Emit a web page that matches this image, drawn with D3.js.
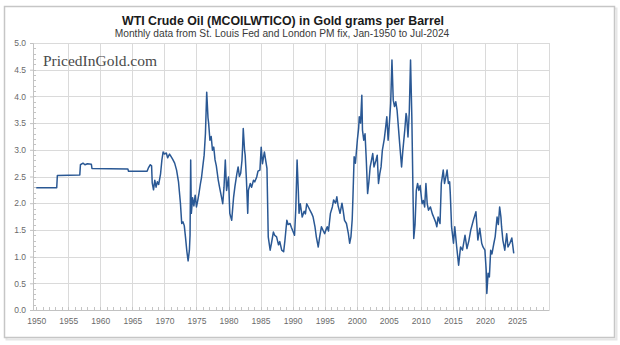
<!DOCTYPE html>
<html>
<head>
<meta charset="utf-8">
<script src="https://cdn.jsdelivr.net/npm/d3@7"></script>
<style>
  html, body { margin: 0; padding: 0; background: #ffffff; }
  svg { display: block; }
</style>
</head>
<body>
<svg id="chart" width="620" height="345"></svg>
<script>
// WTI crude oil priced in grams of gold per barrel (monthly, Jan-1950 .. Jul-2024)
const dates = [
  1950.0, 1953.2, 1953.3, 1956.8, 1956.9, 1957.3, 1957.6, 1958.0, 1958.6, 1958.7,
  1964.3, 1964.4, 1967.3, 1967.5, 1967.8, 1968.0, 1968.1, 1968.3, 1968.5, 1968.7,
  1968.9, 1969.1, 1969.4, 1969.6, 1969.8, 1970.0, 1970.3, 1970.5, 1970.8, 1971.0,
  1971.3, 1971.6, 1971.9, 1972.2, 1972.5, 1972.7, 1972.9, 1973.1, 1973.3, 1973.5,
  1973.7, 1973.9, 1974.0, 1974.1, 1974.2, 1974.4, 1974.6, 1974.8, 1975.0, 1975.2,
  1975.4, 1975.6, 1975.8, 1976.0, 1976.2, 1976.4, 1976.6, 1976.8, 1976.9, 1977.1,
  1977.3, 1977.5, 1977.7, 1977.9, 1978.1, 1978.4, 1978.6, 1978.9, 1979.1, 1979.3,
  1979.5, 1979.7, 1980.0, 1980.2, 1980.5, 1980.8, 1981.0, 1981.3, 1981.5, 1981.7,
  1981.9, 1982.1, 1982.2, 1982.3, 1982.5, 1982.6, 1982.8, 1983.0, 1983.1, 1983.4,
  1983.6, 1983.9, 1984.1, 1984.4, 1984.6, 1984.9, 1985.1, 1985.3, 1985.6, 1985.8,
  1986.0, 1986.2, 1986.4, 1986.5, 1986.7, 1987.0, 1987.2, 1987.5, 1987.8, 1988.0,
  1988.3, 1988.6, 1988.8, 1989.1, 1989.3, 1989.6, 1989.8, 1990.1, 1990.3, 1990.5,
  1990.7, 1990.9, 1991.0, 1991.2, 1991.5, 1991.8, 1992.0, 1992.2, 1992.5, 1992.7,
  1993.0, 1993.2, 1993.5, 1993.7, 1994.0, 1994.2, 1994.5, 1994.8, 1995.0, 1995.2,
  1995.4, 1995.6, 1995.9, 1996.2, 1996.4, 1996.7, 1996.9, 1997.1, 1997.4, 1997.7,
  1997.9, 1998.1, 1998.4, 1998.7, 1998.9, 1999.1, 1999.3, 1999.4, 1999.6, 1999.8,
  2000.1, 2000.3, 2000.4, 2000.6, 2000.8, 2000.9, 2001.1, 2001.3, 2001.5, 2001.7,
  2001.9, 2002.1, 2002.3, 2002.5, 2002.7, 2003.0, 2003.2, 2003.4, 2003.6, 2003.8,
  2004.0, 2004.3, 2004.5, 2004.7, 2004.9, 2005.1, 2005.3, 2005.5, 2005.7, 2005.9,
  2006.1, 2006.3, 2006.5, 2006.7, 2007.0, 2007.2, 2007.5, 2007.7, 2007.8, 2008.0,
  2008.2, 2008.4, 2008.6, 2008.8, 2008.9, 2009.1, 2009.3, 2009.5, 2009.7, 2009.9,
  2010.2, 2010.4, 2010.6, 2010.8, 2011.0, 2011.2, 2011.5, 2011.8, 2012.0, 2012.3,
  2012.5, 2012.7, 2013.0, 2013.2, 2013.5, 2013.7, 2013.9, 2014.1, 2014.3, 2014.5,
  2014.6, 2014.8, 2015.1, 2015.3, 2015.6, 2015.9, 2016.2, 2016.5, 2016.9, 2017.2,
  2017.5, 2017.8, 2018.2, 2018.6, 2018.9, 2019.2, 2019.5, 2019.7, 2020.0, 2020.2,
  2020.3, 2020.5, 2020.7, 2020.9, 2021.1, 2021.4, 2021.6, 2021.9, 2022.1, 2022.3,
  2022.5, 2022.6, 2022.8, 2023.1, 2023.4, 2023.6, 2023.9, 2024.2, 2024.5
];
const gramsPerBarrel = [
  2.29, 2.29, 2.52, 2.53, 2.72, 2.75, 2.72, 2.74, 2.73, 2.65,
  2.64, 2.60, 2.60, 2.66, 2.72, 2.70, 2.38, 2.25, 2.43, 2.30,
  2.40, 2.35, 2.55, 2.80, 2.96, 2.92, 2.94, 2.85, 2.92, 2.88,
  2.82, 2.75, 2.62, 2.40, 2.00, 1.62, 1.65, 1.58, 1.35, 1.10,
  0.92, 1.12, 1.40, 2.81, 1.81, 2.10, 1.95, 2.15, 1.93, 2.05,
  2.19, 2.35, 2.49, 2.70, 2.90, 3.30, 4.08, 3.60, 3.50, 3.18,
  3.25, 2.99, 3.05, 2.81, 2.70, 2.43, 2.30, 2.12, 1.99, 2.30,
  2.81, 2.24, 2.49, 1.81, 1.68, 2.12, 2.31, 2.55, 2.68, 2.50,
  2.56, 2.80, 3.05, 3.40, 3.00, 2.90, 2.43, 1.81, 2.24, 2.37,
  2.30, 2.43, 2.40, 2.49, 2.60, 2.62, 3.05, 2.74, 2.96, 2.80,
  2.65, 1.37, 1.20, 1.12, 1.25, 1.46, 1.40, 1.37, 1.22, 1.28,
  1.12, 1.09, 1.30, 1.68, 1.60, 1.62, 1.55, 1.46, 1.40, 1.90,
  2.81, 2.20, 1.81, 1.99, 1.74, 1.85, 1.80, 1.99, 1.92, 1.87,
  1.80, 1.74, 1.55, 1.37, 1.18, 1.35, 1.56, 1.48, 1.43, 1.50,
  1.56, 1.48, 1.81, 1.93, 2.06, 2.00, 2.12, 1.95, 1.81, 2.00,
  1.85, 1.68, 1.62, 1.43, 1.25, 1.37, 1.70, 2.06, 2.87, 2.75,
  3.18, 3.40, 3.62, 3.50, 4.02, 3.37, 3.18, 3.30, 2.80, 2.18,
  2.40, 2.68, 2.80, 2.93, 2.68, 2.80, 2.90, 2.37, 2.55, 2.68,
  2.99, 3.20, 3.40, 3.62, 3.18, 3.50, 3.87, 4.68, 3.93, 3.81,
  3.90, 3.74, 3.43, 3.12, 2.68, 2.99, 3.37, 3.68, 3.62, 3.24,
  3.70, 4.68, 3.62, 2.06, 1.34, 1.60, 2.24, 2.37, 2.24, 2.33,
  1.99, 2.05, 1.93, 2.37, 1.99, 1.87, 1.93, 1.80, 1.74, 1.65,
  1.56, 1.74, 1.62, 2.37, 2.62, 2.37, 2.49, 2.62, 2.37, 2.40,
  2.18, 1.56, 1.25, 1.56, 1.18, 0.84, 1.18, 1.12, 1.40, 1.15,
  1.30, 1.50, 1.68, 1.84, 1.31, 1.53, 1.25, 1.18, 1.12, 0.75,
  0.31, 0.69, 0.62, 1.12, 1.05, 1.25, 1.37, 1.74, 1.60, 1.93,
  1.74, 1.56, 1.31, 1.12, 1.43, 1.18, 1.25, 1.35, 1.06
];
const yTickValues = [0, 0.5, 1, 1.5, 2, 2.5, 3, 3.5, 4, 4.5, 5];
const xTickYears = [1950, 1955, 1960, 1965, 1970, 1975, 1980, 1985, 1990, 1995,
                    2000, 2005, 2010, 2015, 2020, 2025];
const xGridYears = [1955, 1960, 1965, 1970, 1975, 1980, 1985, 1990, 1995,
                    2000, 2005, 2010, 2015, 2020, 2025, 2030];
const titleText = "WTI Crude Oil (MCOILWTICO) in Gold grams per Barrel";
const subtitleText = "Monthly data from St. Louis Fed and London PM fix, Jan-1950 to Jul-2024";
const watermarkText = "PricedInGold.com";

const series = dates.map((d, i) => [d, gramsPerBarrel[i]]);

const svg = d3.select("#chart");
const plot = { left: 33, right: 549, top: 43, bottom: 310 };

const x = d3.scaleLinear().domain([1949.5, 2030]).range([plot.left, plot.right]);
const y = d3.scaleLinear().domain([0, 5]).range([plot.bottom, plot.top]);

// outer frame with a soft drop edge
svg.append("rect")
  .attr("x", 6.5).attr("y", 8.5).attr("width", 610).attr("height", 331)
  .attr("fill", "none").attr("stroke", "#e6e6e6").attr("stroke-width", 2);
svg.append("rect")
  .attr("x", 4.5).attr("y", 6.5).attr("width", 610).attr("height", 331)
  .attr("fill", "#ffffff").attr("stroke", "#c6c6c6").attr("stroke-width", 1.5);

// grid
const grid = svg.append("g").attr("stroke", "#dadada").attr("stroke-width", 1);
grid.selectAll("line.h").data(yTickValues.filter(v => v > 0)).join("line")
  .attr("x1", plot.left).attr("x2", plot.right)
  .attr("y1", d => Math.round(y(d)) + 0.5).attr("y2", d => Math.round(y(d)) + 0.5);
grid.selectAll("line.v").data(xGridYears).join("line")
  .attr("y1", plot.top).attr("y2", plot.bottom)
  .attr("x1", d => Math.round(x(d)) + 0.5).attr("x2", d => Math.round(x(d)) + 0.5);

// minor ticks along the axes
const minorYears = d3.range(1950, 2030, 1);
svg.append("g").attr("stroke", "#c4c4c4").attr("stroke-width", 1)
  .selectAll("line").data(minorYears).join("line")
  .attr("x1", d => Math.round(x(d)) + 0.5).attr("x2", d => Math.round(x(d)) + 0.5)
  .attr("y1", plot.bottom).attr("y2", plot.bottom - 3);
const minorVals = d3.range(0, 50, 1).map(i => i / 10);
svg.append("g").attr("stroke", "#c4c4c4").attr("stroke-width", 1)
  .selectAll("line").data(minorVals).join("line")
  .attr("y1", d => Math.round(y(d)) + 0.5).attr("y2", d => Math.round(y(d)) + 0.5)
  .attr("x1", plot.left).attr("x2", plot.left + 3);

// axes
const yAxis = svg.append("g")
  .attr("transform", `translate(${plot.left},0)`)
  .call(d3.axisLeft(y).tickValues(yTickValues).tickFormat(d3.format(".1f"))
    .tickSize(3).tickPadding(4));
const xAxis = svg.append("g")
  .attr("transform", `translate(0,${plot.bottom})`)
  .call(d3.axisBottom(x).tickValues(xTickYears).tickFormat(d3.format("d"))
    .tickSize(0).tickPadding(8));
[yAxis, xAxis].forEach(a => {
  a.select(".domain").attr("stroke", "#c2c2c2");
  a.selectAll(".tick line").attr("stroke", "#c2c2c2");
  a.selectAll(".tick text")
    .attr("fill", "#6a6a6a")
    .style("font-family", "'Liberation Sans', Arial, sans-serif")
    .style("font-size", "8.5px");
});

// data line
const line = d3.line().x(d => x(d[0])).y(d => y(d[1]));
svg.append("path")
  .datum(series)
  .attr("d", line)
  .attr("fill", "none")
  .attr("stroke", "#2a5894")
  .attr("stroke-width", 1.5)
  .attr("stroke-linejoin", "round");

// fit a text element to a target width by adjusting its font size
function fitText(sel, target) {
  const w = sel.node().getComputedTextLength();
  const fs = parseFloat(sel.style("font-size"));
  sel.style("font-size", (fs * target / w).toFixed(2) + "px");
}

const title = svg.append("text")
  .attr("x", 283).attr("y", 25).attr("text-anchor", "middle")
  .style("font-family", "'Liberation Sans', Arial, sans-serif")
  .style("font-weight", "bold").style("font-size", "13px")
  .attr("fill", "#1a1a1a").text(titleText);
fitText(title, 322);

const subtitle = svg.append("text")
  .attr("x", 282).attr("y", 37).attr("text-anchor", "middle")
  .style("font-family", "'Liberation Sans', Arial, sans-serif")
  .style("font-size", "10px")
  .attr("fill", "#3a3a3a").text(subtitleText);
fitText(subtitle, 335);

const mark = svg.append("text")
  .attr("x", 43).attr("y", 66)
  .style("font-family", "'Liberation Serif', 'DejaVu Serif', serif")
  .style("font-size", "16px")
  .attr("fill", "#4a4a4a").text(watermarkText);
fitText(mark, 114);
</script>
</body>
</html>
